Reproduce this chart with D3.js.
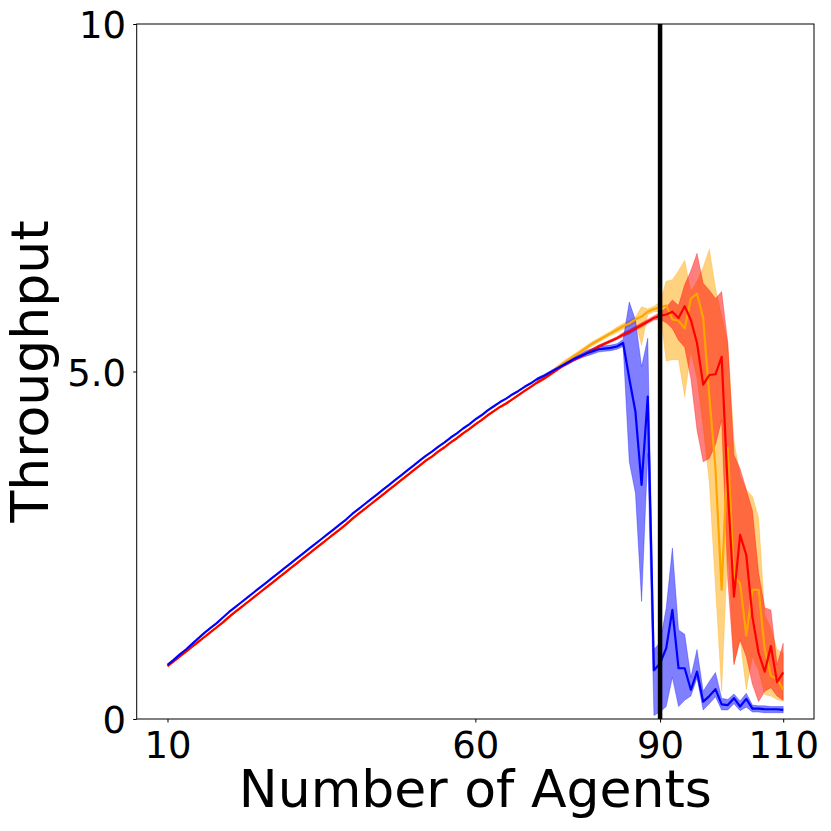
<!DOCTYPE html>
<html>
<head>
<meta charset="utf-8">
<script src="https://cdn.jsdelivr.net/npm/d3@7"></script>
<style>
  body { margin: 0; background: #fff; }
  text { font-family: "DejaVu Sans", sans-serif; fill: #000; }
</style>
</head>
<body>
<div id="chart"></div>
<script>
// number of agents on the x axis
var agents = [10, 11, 12, 13, 14, 15, 16, 17, 18, 19,
  20, 21, 22, 23, 24, 25, 26, 27, 28, 29,
  30, 31, 32, 33, 34, 35, 36, 37, 38, 39,
  40, 41, 42, 43, 44, 45, 46, 47, 48, 49,
  50, 51, 52, 53, 54, 55, 56, 57, 58, 59,
  60, 61, 62, 63, 64, 65, 66, 67, 68, 69,
  70, 71, 72, 73, 74, 75, 76, 77, 78, 79,
  80, 81, 82, 83, 84, 85, 86, 87, 88, 89,
  90, 91, 92, 93, 94, 95, 96, 97, 98, 99,
  100, 101, 102, 103, 104, 105, 106, 107, 108, 109, 110];

// the shaded bands only show from 70 agents on
var bandAgents = agents.slice(60);

var blueMean = [0.78, 0.85, 0.93, 1.00, 1.08, 1.16, 1.24, 1.31, 1.38, 1.46,
  1.54, 1.61, 1.68, 1.75, 1.82, 1.89, 1.96, 2.03, 2.10, 2.17,
  2.24, 2.31, 2.38, 2.45, 2.52, 2.59, 2.66, 2.73, 2.80, 2.87,
  2.95, 3.02, 3.09, 3.16, 3.23, 3.30, 3.37, 3.44, 3.51, 3.58,
  3.65, 3.72, 3.79, 3.85, 3.92, 3.98, 4.05, 4.11, 4.18, 4.24,
  4.31, 4.37, 4.44, 4.50, 4.56, 4.61, 4.67, 4.72, 4.78, 4.83,
  4.89, 4.93, 4.98, 5.03, 5.08, 5.13, 5.18, 5.22, 5.26, 5.29,
  5.32, 5.33, 5.34, 5.36, 5.41, 4.90, 4.42, 3.37, 4.64, 0.70,
  0.80, 1.02, 1.57, 0.73, 0.73, 0.42, 0.68, 0.25, 0.33, 0.43,
  0.21, 0.20, 0.30, 0.18, 0.29, 0.15, 0.15, 0.14, 0.14, 0.14, 0.13];
var blueLo = [4.87, 4.91, 4.96, 5.01, 5.06, 5.10, 5.15, 5.19, 5.22, 5.25,
  5.28, 5.29, 5.30, 5.32, 5.36, 3.70, 3.25, 1.69, 3.82, 0.05,
  0.10, 0.18, 0.60, 0.18, 0.27, 0.33, 0.59, 0.13, 0.22, 0.32,
  0.13, 0.13, 0.22, 0.12, 0.17, 0.10, 0.10, 0.09, 0.09, 0.09, 0.09];
var blueHi = [4.91, 4.95, 5.00, 5.05, 5.10, 5.16, 5.21, 5.25, 5.30, 5.33,
  5.36, 5.37, 5.38, 5.40, 5.46, 6.00, 5.74, 5.07, 5.48, 1.00,
  1.10, 1.60, 2.46, 1.28, 1.22, 0.60, 1.00, 0.40, 0.54, 0.67,
  0.30, 0.28, 0.36, 0.26, 0.37, 0.20, 0.19, 0.19, 0.18, 0.18, 0.18];

var orangeMean = [0.76, 0.83, 0.90, 0.97, 1.04, 1.11, 1.18, 1.25, 1.32, 1.39,
  1.47, 1.54, 1.61, 1.68, 1.75, 1.82, 1.89, 1.96, 2.03, 2.10,
  2.17, 2.24, 2.31, 2.38, 2.45, 2.52, 2.59, 2.66, 2.73, 2.80,
  2.88, 2.95, 3.02, 3.09, 3.16, 3.23, 3.30, 3.37, 3.44, 3.51,
  3.58, 3.65, 3.72, 3.78, 3.85, 3.91, 3.98, 4.04, 4.11, 4.17,
  4.24, 4.30, 4.37, 4.43, 4.49, 4.54, 4.60, 4.66, 4.72, 4.78,
  4.84, 4.89, 4.95, 5.03, 5.10, 5.16, 5.22, 5.28, 5.34, 5.40,
  5.45, 5.50, 5.55, 5.60, 5.65, 5.69, 5.75, 5.79, 5.86, 5.90,
  5.92, 5.95, 5.75, 5.73, 5.62, 6.05, 6.12, 5.77, 4.64, 3.60,
  1.86, 3.90, 2.05, 1.95, 1.20, 1.86, 1.86, 1.00, 0.62, 0.58, 0.42];
var orangeLo = [4.82, 4.87, 4.93, 5.00, 5.07, 5.13, 5.19, 5.25, 5.31, 5.37,
  5.42, 5.47, 5.52, 5.56, 5.61, 5.65, 5.70, 5.38, 5.82, 5.86,
  5.86, 5.15, 5.17, 5.17, 4.64, 5.30, 4.90, 4.20, 3.40, 1.90,
  0.40, 2.50, 0.80, 1.14, 0.42, 0.90, 0.70, 0.35, 0.33, 0.28, 0.26];
var orangeHi = [4.86, 4.91, 4.97, 5.06, 5.13, 5.19, 5.25, 5.31, 5.37, 5.43,
  5.48, 5.53, 5.58, 5.64, 5.69, 5.73, 5.78, 5.93, 5.90, 5.94,
  6.00, 6.30, 6.32, 6.45, 6.60, 6.15, 6.30, 6.50, 6.76, 6.20,
  5.80, 5.40, 4.00, 3.50, 3.30, 3.20, 2.90, 1.50, 1.30, 1.00, 0.95];

var redMean = [0.76, 0.83, 0.90, 0.97, 1.04, 1.11, 1.18, 1.25, 1.32, 1.39,
  1.47, 1.54, 1.61, 1.68, 1.75, 1.82, 1.89, 1.96, 2.03, 2.10,
  2.17, 2.24, 2.31, 2.38, 2.45, 2.52, 2.59, 2.66, 2.73, 2.80,
  2.88, 2.95, 3.02, 3.09, 3.16, 3.23, 3.30, 3.37, 3.44, 3.51,
  3.58, 3.65, 3.72, 3.78, 3.85, 3.91, 3.98, 4.04, 4.11, 4.17,
  4.24, 4.30, 4.37, 4.43, 4.49, 4.54, 4.60, 4.66, 4.72, 4.78,
  4.84, 4.89, 4.95, 5.01, 5.07, 5.12, 5.17, 5.21, 5.26, 5.31,
  5.36, 5.40, 5.44, 5.48, 5.53, 5.57, 5.62, 5.67, 5.72, 5.77,
  5.80, 5.82, 5.86, 5.77, 5.94, 5.74, 5.41, 4.81, 4.95, 4.96,
  5.21, 3.30, 1.76, 2.65, 2.36, 1.47, 0.95, 0.68, 1.05, 0.53, 0.67];
var redLo = [4.82, 4.87, 4.93, 4.99, 5.05, 5.10, 5.15, 5.19, 5.24, 5.29,
  5.34, 5.38, 5.42, 5.46, 5.50, 5.54, 5.59, 5.64, 5.69, 5.74,
  5.75, 5.70, 5.62, 5.45, 5.35, 4.90, 4.16, 3.70, 3.75, 3.95,
  4.30, 2.00, 0.78, 1.14, 0.90, 0.50, 0.25, 0.40, 0.45, 0.33, 0.27];
var redHi = [4.86, 4.91, 4.97, 5.03, 5.09, 5.14, 5.19, 5.23, 5.28, 5.33,
  5.38, 5.42, 5.46, 5.50, 5.56, 5.60, 5.65, 5.70, 5.75, 5.80,
  5.85, 5.92, 6.03, 5.95, 6.25, 6.45, 6.70, 6.27, 6.17, 6.05,
  6.15, 5.41, 3.80, 3.60, 3.30, 3.00, 2.10, 1.60, 1.57, 0.78, 1.09];

var xTickValues = [10, 60, 90, 110];
var yTickValues = [0, 5, 10];
var yTickLabels = ["0", "5.0", "10"];
var thresholdAgents = 90;

var svgWidth = 831;
var svgHeight = 831;

var margin = {
  top: 24,
  right: 17,
  bottom: 112,
  left: 136.7
};
var width = svgWidth - margin.left - margin.right;
var height = svgHeight - margin.top - margin.bottom;

var svg = d3
  .select("#chart")
  .append("svg")
  .attr("width", svgWidth)
  .attr("height", svgHeight);

var chartGroup = svg.append("g")
  .attr("transform", `translate(${margin.left}, ${margin.top})`);

var xLinearScale = d3.scaleLinear()
  .domain([5, 115])
  .range([0, width]);

var yLinearScale = d3.scaleLinear()
  .domain([0, 10])
  .range([height, 0]);

// series drawn in this order: orange, red, blue
var series = [
  { color: "orange", mean: orangeMean, lo: orangeLo, hi: orangeHi },
  { color: "red", mean: redMean, lo: redLo, hi: redHi },
  { color: "blue", mean: blueMean, lo: blueLo, hi: blueHi }
];

var bandArea = function(s) {
  return d3.area()
    .x(i => xLinearScale(bandAgents[i]))
    .y0(i => yLinearScale(s.lo[i]))
    .y1(i => yLinearScale(s.hi[i]));
};

var meanLine = d3.line()
  .x((d, i) => xLinearScale(agents[i]))
  .y(d => yLinearScale(d));

// bands first
series.forEach(function(s) {
  chartGroup.append("path")
    .datum(d3.range(bandAgents.length))
    .attr("d", bandArea(s))
    .attr("fill", s.color)
    .attr("fill-opacity", 0.5)
    .attr("stroke", s.color)
    .attr("stroke-opacity", 0.3)
    .attr("stroke-width", 1);
});

// then the mean lines
series.forEach(function(s) {
  chartGroup.append("path")
    .datum(s.mean)
    .attr("d", meanLine)
    .attr("fill", "none")
    .attr("stroke", s.color)
    .attr("stroke-width", 2.2)
    .attr("stroke-linejoin", "round");
});

// vertical marker at 90 agents
chartGroup.append("line")
  .attr("x1", xLinearScale(thresholdAgents))
  .attr("x2", xLinearScale(thresholdAgents))
  .attr("y1", 0)
  .attr("y2", height)
  .attr("stroke", "#000")
  .attr("stroke-width", 4.5);

// axes
var bottomAxis = d3.axisBottom(xLinearScale).tickValues(xTickValues).tickSize(3.5);
var leftAxis = d3.axisLeft(yLinearScale)
  .tickValues(yTickValues)
  .tickSize(3.5)
  .tickFormat((d, i) => yTickLabels[i]);

var xAxisG = chartGroup.append("g")
  .attr("transform", `translate(0, ${height})`)
  .call(bottomAxis);
xAxisG.select(".domain").remove();
xAxisG.selectAll("text")
  .attr("y", 39)
  .attr("dy", null)
  .style("font-size", "37px")
  .style("font-family", "DejaVu Sans");

var yAxisG = chartGroup.append("g")
  .call(leftAxis);
yAxisG.select(".domain").remove();
yAxisG.selectAll("text")
  .attr("x", -10.7)
  .attr("dy", "0.365em")
  .style("font-size", "37px")
  .style("font-family", "DejaVu Sans");

chartGroup.selectAll(".tick line").attr("stroke", "#000");

// frame
chartGroup.append("rect")
  .attr("x", 0)
  .attr("y", 0)
  .attr("width", width)
  .attr("height", height)
  .attr("fill", "none")
  .attr("stroke", "#000")
  .attr("stroke-width", 1);

// axis labels
chartGroup.append("text")
  .attr("transform", `translate(${width / 2}, ${height + 88})`)
  .attr("text-anchor", "middle")
  .style("font-size", "52px")
  .text("Number of Agents");

chartGroup.append("text")
  .attr("transform", `translate(${48 - margin.left}, ${height / 2}) rotate(-90)`)
  .attr("text-anchor", "middle")
  .style("font-size", "52px")
  .text("Throughput");
</script>
</body>
</html>
